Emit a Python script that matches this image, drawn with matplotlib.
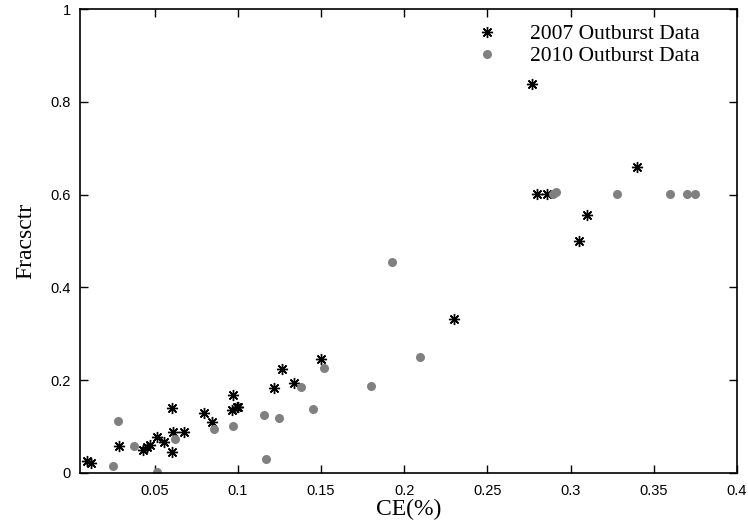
import matplotlib
matplotlib.use("Agg")
import matplotlib.pyplot as plt

# 2007 outburst data (asterisks)
x2007 = [0.009, 0.0114, 0.0283, 0.0427, 0.0455, 0.047, 0.0511, 0.0555, 0.0602, 0.0608,
         0.0605, 0.0676, 0.0796, 0.0846, 0.0962, 0.0972, 0.0993, 0.1002, 0.1219, 0.1267,
         0.1339, 0.150, 0.230, 0.2771, 0.2797, 0.286, 0.3052, 0.3101, 0.340]
y2007 = [0.026, 0.020, 0.058, 0.049, 0.056, 0.060, 0.078, 0.067, 0.044, 0.087,
         0.140, 0.087, 0.129, 0.109, 0.135, 0.167, 0.141, 0.142, 0.183, 0.223,
         0.194, 0.245, 0.331, 0.838, 0.601, 0.601, 0.500, 0.557, 0.660]

# 2010 outburst data (grey circles)
x2010 = [0.025, 0.0279, 0.0375, 0.0515, 0.0620, 0.0858, 0.0972, 0.1159, 0.1169, 0.1249,
         0.1377, 0.145, 0.1518, 0.1799, 0.1929, 0.2097, 0.2897, 0.2911, 0.328, 0.360,
         0.370, 0.375]
y2010 = [0.0145, 0.111, 0.057, 0.002, 0.072, 0.094, 0.101, 0.124, 0.030, 0.119,
         0.186, 0.137, 0.227, 0.188, 0.454, 0.250, 0.601, 0.606, 0.601, 0.601,
         0.601, 0.601]

xticks = [0.05, 0.1, 0.15, 0.2, 0.25, 0.3, 0.35, 0.4]
xticklabels = ["0.05", "0.1", "0.15", "0.2", "0.25", "0.3", "0.35", "0.4"]
yticks = [0, 0.2, 0.4, 0.6, 0.8, 1]
yticklabels = ["0", "0.2", "0.4", "0.6", "0.8", "1"]

fig = plt.figure(figsize=(7.48, 5.25), dpi=100)
ax = fig.add_axes([0.107, 0.0996, 0.878, 0.8827])

ax.plot(x2007, y2007, linestyle="none", marker=(8, 2, 0), markersize=8,
        markeredgewidth=1.0, color="black", label="2007 Outburst Data")
ax.plot(x2010, y2010, linestyle="none", marker="o", markersize=6.5,
        markeredgewidth=0, color="#808080", label="2010 Outburst Data")

ax.set_xlim(0.005, 0.4)
ax.set_ylim(0, 1)
ax.set_xticks(xticks)
ax.set_xticklabels(xticklabels, family="Liberation Sans", fontsize=10.5)
ax.set_yticks(yticks)
ax.set_yticklabels(yticklabels, family="Liberation Sans", fontsize=10.5)
ax.tick_params(axis="x", direction="in", top=True, length=6, width=1,
               pad=8, colors="black")
ax.tick_params(axis="y", direction="in", right=True, length=6, width=1,
               pad=6.5, colors="black")
for s in ax.spines.values():
    s.set_linewidth(1.2)

ax.set_xlabel("CE(%)", family="Liberation Serif", fontsize=17, labelpad=1)
ax.set_ylabel("Fracsctr", family="Liberation Serif", fontsize=17, labelpad=10)

leg = ax.legend(loc="upper right", bbox_to_anchor=(0.9434, 0.968), frameon=False,
                prop={"family": "Liberation Serif", "size": 15.5},
                handlelength=1.0, handletextpad=1.47, labelspacing=0.1,
                borderaxespad=0, borderpad=0)

fig.savefig("out.png", dpi=100)
